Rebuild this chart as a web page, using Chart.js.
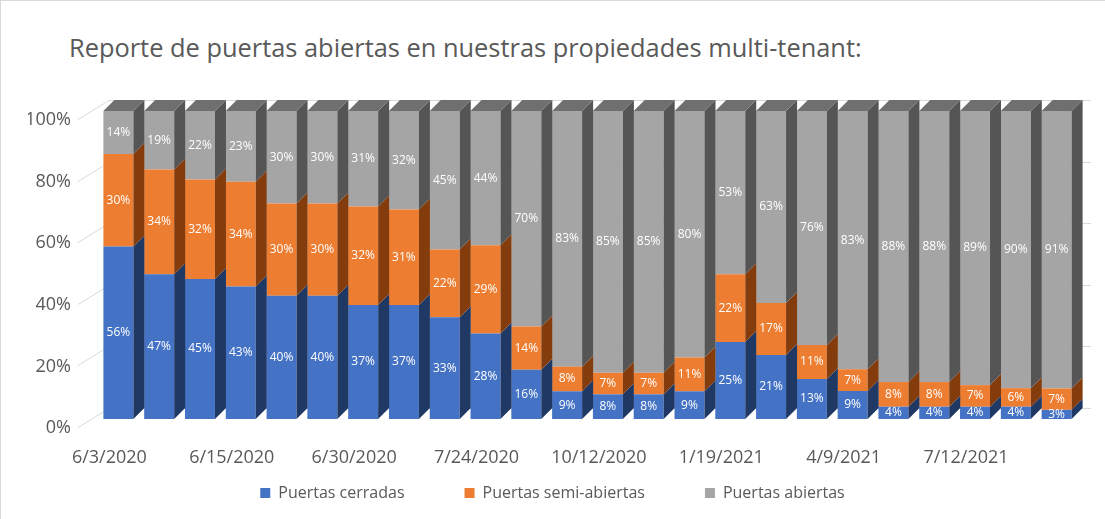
<!DOCTYPE html>
<html>
<head>
<meta charset="utf-8">
<script src="https://cdn.jsdelivr.net/npm/chart.js@4.4.1/dist/chart.umd.min.js"></script>
<style>
    body { margin: 0; background: #fff; }
    .frame { position: relative; width: 1105px; height: 519px; box-sizing: border-box; border-left: 1px solid #d9d9d9; border-top: 1px solid #d9d9d9; }
    .title { position: absolute; left: 68px; top: 29px; font-family: "Open Sans", sans-serif; font-size: 25.4px; color: #595959; white-space: nowrap; }
    canvas { position: absolute; left: 0; top: 0; }
</style>
</head>
<body>
<div class="frame">
    <div class="title">Reporte de puertas abiertas en nuestras propiedades multi-tenant:</div>
    <canvas id="doorChart" width="1105" height="519"></canvas>
</div>
<script>
// Labels shown under every third bar
const dateLabels = ['6/3/2020', '6/15/2020', '6/30/2020', '7/24/2020', '10/12/2020', '1/19/2021', '4/9/2021', '7/12/2021'];

const closedDoors = [56, 47, 45, 43, 40, 40, 37, 37, 33, 28, 16, 9, 8, 8, 9, 25, 21, 13, 9, 4, 4, 4, 4, 3];
const semiOpenDoors = [30, 34, 32, 34, 30, 30, 32, 31, 22, 29, 14, 8, 7, 7, 11, 22, 17, 11, 7, 8, 8, 7, 6, 7];
const openDoors = [14, 19, 22, 23, 30, 30, 31, 32, 45, 44, 70, 83, 85, 85, 80, 53, 63, 76, 83, 88, 88, 89, 90, 91];

const seriesNames = ['Puertas cerradas', 'Puertas semi-abiertas', 'Puertas abiertas'];
const yTicks = [0, 20, 40, 60, 80, 100];

const frontColors = ['#4472C4', '#ED7D31', '#A5A5A5'];
const sideColors = ['#203864', '#843C0C', '#555555'];
const topColor = '#6F6F6F';
const depth = { x: 11, y: 11 };

const categories = closedDoors.map((v, i) => i % 3 === 0 ? dateLabels[i / 3] : '');
const rawSeries = [closedDoors, semiOpenDoors, openDoors];

// 100% stacked: scale each column to its total
const totals = closedDoors.map((v, i) => v + semiOpenDoors[i] + openDoors[i]);
const shares = rawSeries.map(s => s.map((v, i) => v / totals[i] * 100));

const bar3d = {
    id: 'bar3d',
    afterLayout(chart) {
        // let the date labels hang below the (short) x axis box without clipping
        chart.scales.x.bottom = chart.height;
    },
    beforeDatasetsDraw(chart) {
        const { ctx, chartArea, scales } = chart;
        ctx.save();
        ctx.strokeStyle = '#d9d9d9';
        ctx.lineWidth = 1;
        yTicks.forEach(v => {
            const y = Math.round(scales.y.getPixelForValue(v)) + 0.5;
            ctx.beginPath();
            ctx.moveTo(chartArea.left - 20, y + 8);
            ctx.lineTo(chartArea.left + depth.x, y - depth.y);
            ctx.lineTo(chartArea.right + depth.x + 3, y - depth.y);
            ctx.stroke();
        });
        ctx.restore();
    },
    afterDatasetsDraw(chart) {
        const { ctx } = chart;
        const last = chart.data.datasets.length - 1;
        ctx.save();
        chart.data.datasets.forEach((ds, d) => {
            chart.getDatasetMeta(d).data.forEach(bar => {
                const p = bar.getProps(['x', 'y', 'base', 'width'], true);
                const left = p.x - p.width / 2;
                const right = p.x + p.width / 2;
                const top = Math.min(p.y, p.base);
                const bottom = Math.max(p.y, p.base);
                ctx.fillStyle = sideColors[d];
                ctx.beginPath();
                ctx.moveTo(right, bottom);
                ctx.lineTo(right + depth.x, bottom - depth.y);
                ctx.lineTo(right + depth.x, top - depth.y);
                ctx.lineTo(right, top);
                ctx.closePath();
                ctx.fill();
                if (d === last) {
                    ctx.fillStyle = topColor;
                    ctx.beginPath();
                    ctx.moveTo(left, top);
                    ctx.lineTo(left + depth.x, top - depth.y);
                    ctx.lineTo(right + depth.x, top - depth.y);
                    ctx.lineTo(right, top);
                    ctx.closePath();
                    ctx.fill();
                }
            });
        });

        // value labels
        ctx.fillStyle = '#ffffff';
        ctx.font = '12px "Open Sans", sans-serif';
        ctx.textAlign = 'center';
        ctx.textBaseline = 'middle';
        chart.data.datasets.forEach((ds, d) => {
            chart.getDatasetMeta(d).data.forEach((bar, i) => {
                const p = bar.getProps(['x', 'y', 'base'], true);
                ctx.fillText(rawSeries[d][i] + '%', p.x, (p.y + p.base) / 2);
            });
        });
        ctx.restore();
    }
};

document.addEventListener('DOMContentLoaded', function() {
    const canvas = document.getElementById('doorChart');
    new Chart(canvas, {
        type: 'bar',
        data: {
            labels: categories,
            datasets: seriesNames.map((name, d) => ({
                label: name,
                data: shares[d],
                backgroundColor: frontColors[d],
                borderWidth: 0,
                barPercentage: 0.735,
                categoryPercentage: 1
            }))
        },
        options: {
            responsive: false,
            animation: false,
            layout: {
                padding: { top: 110, left: 27, right: 29, bottom: 9 }
            },
            scales: {
                x: {
                    stacked: true,
                    grid: { display: false, drawTicks: false },
                    border: { display: false },
                    afterFit: scale => {
                        scale.height = 6;
                        scale.paddingLeft = 0;
                        scale.paddingRight = 0;
                    },
                    ticks: {
                        autoSkip: false,
                        maxRotation: 0,
                        padding: 28,
                        labelOffset: -9,
                        color: '#595959',
                        font: { family: 'Open Sans', size: 18 }
                    }
                },
                y: {
                    stacked: true,
                    min: 0,
                    max: 100,
                    grid: { display: false, drawTicks: false },
                    border: { display: false },
                    afterFit: scale => { scale.width = 70; },
                    ticks: {
                        stepSize: 20,
                        padding: 27,
                        labelOffset: 9,
                        color: '#595959',
                        font: { family: 'Open Sans', size: 18 },
                        callback: v => v + '%'
                    }
                }
            },
            plugins: {
                legend: {
                    position: 'bottom',
                    labels: {
                        boxWidth: 10,
                        boxHeight: 10,
                        padding: 60,
                        color: '#595959',
                        font: { family: 'Open Sans', size: 16 }
                    }
                },
                tooltip: { enabled: false }
            }
        },
        plugins: [bar3d]
    });
});
</script>
</body>
</html>
